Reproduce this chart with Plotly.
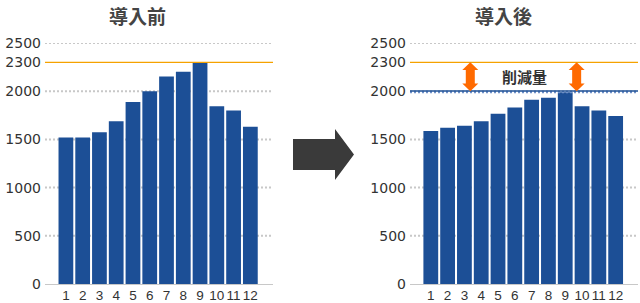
import plotly.graph_objects as go

# ---- data ----
months = list(range(1, 13))
month_labels = [str(m) for m in months]
before_values = [1520, 1520, 1575, 1687, 1888, 2000, 2152, 2202, 2300, 1844, 1799, 1631]
after_values = [1586, 1620, 1642, 1687, 1765, 1832, 1911, 1933, 1989, 1844, 1799, 1743]
ytick_values = [0, 500, 1000, 1500, 2000, 2300, 2500]
grid_values = [500, 1000, 1500, 2000, 2500]
peak_before = 2300
peak_after = 2000
titles = ["導入前", "導入後"]
reduction_label = "削減量"

W, H = 640, 303
BAR = "#1c4f96"
ORANGE = "#f5a200"
ARROW = "#ff6a00"
GRID = "#c8c8c8"
TXT = "#333333"

def px_x(p):
    return p / W

def px_y(p):
    return 1 - p / H

fig = go.Figure()
fig.add_trace(go.Bar(x=months, y=before_values, marker=dict(color=BAR, line=dict(width=0)),
                     xaxis="x", yaxis="y", showlegend=False))
fig.add_trace(go.Bar(x=months, y=after_values, marker=dict(color=BAR, line=dict(width=0)),
                     xaxis="x2", yaxis="y2", showlegend=False))

ydom = [px_y(284), px_y(43)]
xaxis_common = dict(
    tickmode="array", tickvals=months, ticktext=month_labels, tickangle=0,
    tickfont=dict(family="Liberation Sans", size=13.5, color=TXT),
    showgrid=False, zeroline=False, showline=True, linecolor=GRID, linewidth=1,
    ticks="", fixedrange=True, automargin=False, ticklabelstandoff=-1,
)
yaxis_common = dict(
    range=[0, 2500], tickmode="array", tickvals=ytick_values,
    tickfont=dict(family="DejaVu Sans", size=14, color=TXT),
    showgrid=False, zeroline=False, showline=False, ticks="",
    ticklabelstandoff=3, domain=ydom, fixedrange=True, automargin=False,
)

shapes = []
for i, (xr, yr) in enumerate([("x", "y"), ("x2", "y2")]):
    for g in grid_values:
        shapes.append(dict(type="line", xref=f"{xr} domain", yref=yr, x0=0, x1=1, y0=g, y1=g,
                           line=dict(color=GRID, width=2, dash="2px,2px"), layer="below"))
    shapes.append(dict(type="line", xref=f"{xr} domain", yref=yr, x0=0, x1=1,
                       y0=peak_before, y1=peak_before, line=dict(color=ORANGE, width=1.3), layer="above"))

# after-chart: new peak line (blue)
shapes.append(dict(type="line", xref="x2 domain", yref="y2", x0=0, x1=1, y0=peak_after - 10, y1=peak_after - 10,
                   line=dict(color="#6f90c8", width=2, dash="2px,2px"), layer="above"))
shapes.append(dict(type="line", xref="x2 domain", yref="y2", x0=0, x1=1, y0=peak_after + 2, y1=peak_after + 2,
                   line=dict(color=BAR, width=1.3), layer="above"))

# orange double arrows between the two peaks
top, bot = peak_before, peak_after
head = 80
for xa in [3.35, 9.68]:
    path = (f"M 0,{top} L 8,{top-head} L 4.5,{top-head} L 4.5,{bot+head} L 8,{bot+head} "
            f"L 0,{bot} L -8,{bot+head} L -4.5,{bot+head} L -4.5,{top-head} L -8,{top-head} Z")
    shapes.append(dict(type="path", xref="x2", yref="y2", xsizemode="pixel", xanchor=xa,
                       path=path, fillcolor=ARROW, line=dict(width=0), layer="above"))

# big arrow in the middle
pts = [(293, 139), (335, 139), (335, 129), (354, 154.5), (335, 180), (335, 170), (293, 170)]
path = "M " + " L ".join(f"{px_x(x):.5f},{px_y(y):.5f}" for x, y in pts) + " Z"
shapes.append(dict(type="path", xref="paper", yref="paper", path=path,
                   fillcolor="#3a3a3a", line=dict(width=0)))

annotations = [
    dict(text=f"<b>{titles[0]}</b>", x=px_x(137), y=px_y(15), xref="paper", yref="paper",
         xanchor="center", yanchor="middle", showarrow=False,
         font=dict(family="Noto Sans CJK JP", size=19, color="#444444")),
    dict(text=f"<b>{titles[1]}</b>", x=px_x(503), y=px_y(15), xref="paper", yref="paper",
         xanchor="center", yanchor="middle", showarrow=False,
         font=dict(family="Noto Sans CJK JP", size=19, color="#444444")),
    dict(text=f"<b>{reduction_label}</b>", x=6.55, y=(peak_before + peak_after) / 2 + 5,
         xref="x2", yref="y2", xanchor="center", yanchor="middle", showarrow=False,
         font=dict(family="Noto Sans CJK JP", size=15, color=TXT)),
]

fig.update_layout(
    width=W, height=H, autosize=False,
    margin=dict(l=0, r=0, t=0, b=0, pad=0),
    paper_bgcolor="white", plot_bgcolor="white",
    bargap=0.12,
    xaxis=dict(domain=[px_x(45), px_x(273)], range=[-0.246, 13.35], anchor="y", **xaxis_common),
    yaxis=dict(anchor="x", **yaxis_common),
    xaxis2=dict(domain=[px_x(410), px_x(638)], range=[-0.238, 13.33], anchor="y2", **xaxis_common),
    yaxis2=dict(anchor="x2", **yaxis_common),
    shapes=shapes,
    annotations=annotations,
)

fig.write_html("out.html", config={"displayModeBar": False})
